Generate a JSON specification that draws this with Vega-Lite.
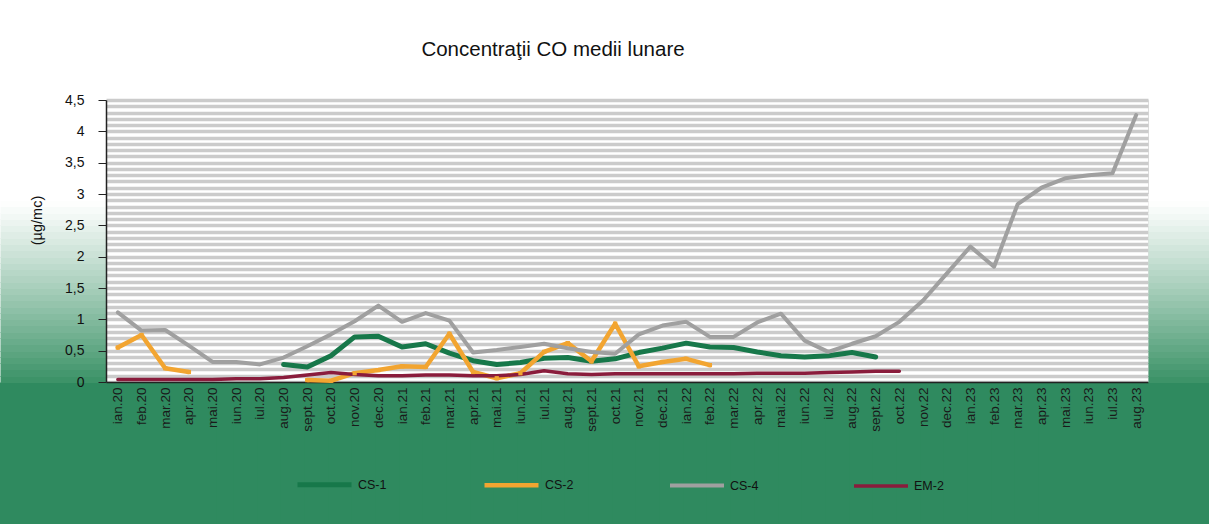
{
  "$schema": "https://vega.github.io/schema/vega-lite/v6.json",
  "width": 1042,
  "height": 282,
  "autosize": {"type": "none"},
  "padding": {"left": 106, "top": 100, "right": 61, "bottom": 142},
  "background": "white",
  "title": {"text": "Concentraţii CO medii lunare", "font": "Liberation Sans", "fontSize": 20.5, "fontWeight": "normal", "color": "#111111", "dx": -74, "offset": 33},
  "data": {"values": [
    {"m": "ian.20", "CS-2": 0.55, "CS-4": 1.11, "EM-2": 0.04},
    {"m": "feb.20", "CS-2": 0.75, "CS-4": 0.82, "EM-2": 0.04},
    {"m": "mar.20", "CS-2": 0.22, "CS-4": 0.83, "EM-2": 0.04},
    {"m": "apr.20", "CS-2": 0.16, "CS-4": 0.58, "EM-2": 0.04},
    {"m": "mai.20", "CS-4": 0.32, "EM-2": 0.04},
    {"m": "iun.20", "CS-4": 0.32, "EM-2": 0.05},
    {"m": "iul.20", "CS-4": 0.28, "EM-2": 0.05},
    {"m": "aug.20", "CS-1": 0.28, "CS-4": 0.39, "EM-2": 0.07},
    {"m": "sept.20", "CS-1": 0.24, "CS-2": 0.03, "CS-4": 0.57, "EM-2": 0.11},
    {"m": "oct.20", "CS-1": 0.42, "CS-2": 0.02, "CS-4": 0.76, "EM-2": 0.15},
    {"m": "nov.20", "CS-1": 0.72, "CS-2": 0.14, "CS-4": 0.97, "EM-2": 0.12},
    {"m": "dec.20", "CS-1": 0.73, "CS-2": 0.19, "CS-4": 1.22, "EM-2": 0.10},
    {"m": "ian.21", "CS-1": 0.56, "CS-2": 0.25, "CS-4": 0.96, "EM-2": 0.10},
    {"m": "feb.21", "CS-1": 0.61, "CS-2": 0.24, "CS-4": 1.10, "EM-2": 0.11},
    {"m": "mar.21", "CS-1": 0.46, "CS-2": 0.77, "CS-4": 0.98, "EM-2": 0.11},
    {"m": "apr.21", "CS-1": 0.34, "CS-2": 0.16, "CS-4": 0.47, "EM-2": 0.10},
    {"m": "mai.21", "CS-1": 0.28, "CS-2": 0.06, "CS-4": 0.51, "EM-2": 0.10},
    {"m": "iun.21", "CS-1": 0.31, "CS-2": 0.14, "CS-4": 0.56, "EM-2": 0.12},
    {"m": "iul.21", "CS-1": 0.38, "CS-2": 0.48, "CS-4": 0.61, "EM-2": 0.18},
    {"m": "aug.21", "CS-1": 0.39, "CS-2": 0.62, "CS-4": 0.54, "EM-2": 0.13},
    {"m": "sept.21", "CS-1": 0.33, "CS-2": 0.33, "CS-4": 0.48, "EM-2": 0.12},
    {"m": "oct.21", "CS-1": 0.37, "CS-2": 0.93, "CS-4": 0.45, "EM-2": 0.13},
    {"m": "nov.21", "CS-1": 0.47, "CS-2": 0.25, "CS-4": 0.76, "EM-2": 0.13},
    {"m": "dec.21", "CS-1": 0.54, "CS-2": 0.32, "CS-4": 0.90, "EM-2": 0.13},
    {"m": "ian.22", "CS-1": 0.62, "CS-2": 0.37, "CS-4": 0.96, "EM-2": 0.13},
    {"m": "feb.22", "CS-1": 0.56, "CS-2": 0.27, "CS-4": 0.72, "EM-2": 0.13},
    {"m": "mar.22", "CS-1": 0.55, "CS-4": 0.72, "EM-2": 0.13},
    {"m": "apr.22", "CS-1": 0.48, "CS-4": 0.95, "EM-2": 0.14},
    {"m": "mai.22", "CS-1": 0.42, "CS-4": 1.09, "EM-2": 0.14},
    {"m": "iun.22", "CS-1": 0.40, "CS-4": 0.66, "EM-2": 0.14},
    {"m": "iul.22", "CS-1": 0.42, "CS-4": 0.48, "EM-2": 0.15},
    {"m": "aug.22", "CS-1": 0.47, "CS-4": 0.61, "EM-2": 0.16},
    {"m": "sept.22", "CS-1": 0.40, "CS-4": 0.73, "EM-2": 0.17},
    {"m": "oct.22", "CS-4": 0.96, "EM-2": 0.17},
    {"m": "nov.22", "CS-4": 1.30},
    {"m": "dec.22", "CS-4": 1.73},
    {"m": "ian.23", "CS-4": 2.16},
    {"m": "feb.23", "CS-4": 1.84},
    {"m": "mar.23", "CS-4": 2.84},
    {"m": "apr.23", "CS-4": 3.10},
    {"m": "mai.23", "CS-4": 3.25},
    {"m": "iun.23", "CS-4": 3.30},
    {"m": "iul.23", "CS-4": 3.33},
    {"m": "aug.23", "CS-4": 4.26}
  ]},
  "transform": [{"fold": ["CS-1", "CS-2", "CS-4", "EM-2"], "as": ["series", "value"]}],
  "encoding": {
    "x": {
      "field": "m", "type": "nominal", "sort": null, "bandPosition": 0.5,
      "scale": {"type": "band", "paddingInner": 0, "paddingOuter": 0},
      "axis": {
        "title": null, "labelAngle": -90, "labelFont": "Liberation Sans", "labelFontSize": 13.5,
        "labelColor": "#1a1a1a", "labelPadding": -137, "labelOverlap": false,
        "tickBand": "extent", "tickSize": 142, "tickWidth": 220, "tickColor": "#2f8a5f",
        "domainColor": "#222222", "domainWidth": 1.5
      }
    }
  },
  "layer": [
    {
      "mark": {"type": "point", "opacity": 0},
      "encoding": {
        "y": {
          "field": "value", "type": "quantitative",
          "scale": {"domain": [0, 4.5], "nice": false},
          "axis": {
            "orient": "left", "title": null, "labels": false, "domain": false, "grid": false,
            "values": [0.05, 0.15, 0.25, 0.35, 0.45, 0.55, 0.65, 0.75, 0.85, 0.95, 1.05, 1.15, 1.25, 1.35, 1.45, 1.55, 1.65, 1.75, 1.85, 1.95, 2.05, 2.15, 2.25, 2.35, 2.45, 2.55, 2.65, 2.75, 2.85, 2.95],
            "tickSize": 106, "tickWidth": 7,
            "tickColor": {"condition": {"test": "datum.value > 3.5", "value": "white"}, "expr": "'rgb(' + round(255-198*pow(clamp((2.9-datum.value)/2.9,0,1),1.1)) + ',' + round(255-110*pow(clamp((2.9-datum.value)/2.9,0,1),1.1)) + ',' + round(255-154*pow(clamp((2.9-datum.value)/2.9,0,1),1.1)) + ')'"}
          }
        }
      }
    },
    {
      "mark": {"type": "point", "opacity": 0},
      "encoding": {
        "y": {
          "field": "value", "type": "quantitative",
          "scale": {"domain": [0, 4.5], "nice": false},
          "axis": {
            "orient": "right", "title": null, "labels": false, "domain": false, "grid": false,
            "values": [0.05, 0.15, 0.25, 0.35, 0.45, 0.55, 0.65, 0.75, 0.85, 0.95, 1.05, 1.15, 1.25, 1.35, 1.45, 1.55, 1.65, 1.75, 1.85, 1.95, 2.05, 2.15, 2.25, 2.35, 2.45, 2.55, 2.65, 2.75, 2.85, 2.95],
            "tickSize": 61, "tickWidth": 7,
            "tickColor": {"condition": {"test": "datum.value > 3.5", "value": "white"}, "expr": "'rgb(' + round(255-198*pow(clamp((2.9-datum.value)/2.9,0,1),1.1)) + ',' + round(255-110*pow(clamp((2.9-datum.value)/2.9,0,1),1.1)) + ',' + round(255-154*pow(clamp((2.9-datum.value)/2.9,0,1),1.1)) + ')'"}
          }
        }
      }
    },
    {
      "mark": {"type": "line", "invalid": "break-paths-show-domains", "strokeCap": "round", "strokeJoin": "round"},
      "encoding": {
        "y": {
          "field": "value", "type": "quantitative",
          "scale": {"domain": [0, 4.5], "nice": false},
          "axis": {
            "orient": "left",
            "title": "(µg/mc)", "titleFont": "Liberation Sans", "titleFontSize": 14.5, "titleFontWeight": "normal",
            "titleColor": "#111111", "titlePadding": 20, "titleY": 120,
            "values": [0, 0.1, 0.2, 0.3, 0.4, 0.5, 0.6, 0.7, 0.8, 0.9, 1, 1.1, 1.2, 1.3, 1.4, 1.5, 1.6, 1.7, 1.8, 1.9, 2, 2.1, 2.2, 2.3, 2.4, 2.5, 2.6, 2.7, 2.8, 2.9, 3, 3.1, 3.2, 3.3, 3.4, 3.5, 3.6, 3.7, 3.8, 3.9, 4, 4.1, 4.2, 4.3, 4.4, 4.5],
            "grid": true, "gridColor": "#cbcbcb", "gridWidth": 3.4,
            "labelExpr": "abs(datum.value*2-round(datum.value*2))<0.01 ? replace(format(datum.value,'.1~f'),'.',',') : ''",
            "labelFont": "Liberation Sans", "labelFontSize": 14, "labelColor": "#111111", "labelPadding": 14, "labelOverlap": false,
            "tickColor": {"condition": {"test": "abs(datum.value*2-round(datum.value*2))<0.01", "value": "#222222"}, "value": "rgba(0,0,0,0)"},
            "tickSize": 8, "domainColor": "#222222", "domainWidth": 1.5
          }
        },
        "color": {
          "field": "series", "type": "nominal",
          "scale": {"domain": ["CS-1", "CS-2", "CS-4", "EM-2"], "range": ["#17784a", "#f2a531", "#a0a0a0", "#8a1c3c"]},
          "legend": {
            "title": null, "orient": "none", "legendX": 189, "legendY": 355, "direction": "horizontal",
            "symbolType": "stroke", "symbolSize": 2916, "symbolStrokeWidth": 4,
            "labelFont": "Liberation Sans", "labelFontSize": 12.5, "labelColor": "#111111",
            "labelOffset": 4, "columnPadding": 88
          }
        },
        "strokeWidth": {
          "field": "series", "type": "ordinal",
          "scale": {"domain": ["CS-1", "CS-2", "CS-4", "EM-2"], "range": [5, 3.5, 5, 6]},
          "legend": null
        }
      }
    },
    {
      "transform": [{"filter": "datum.series === 'CS-2' && isValid(datum.value)"}],
      "mark": {"type": "square", "color": "#f2a531", "size": 18, "opacity": 1, "filled": true},
      "encoding": {
        "y": {"field": "value", "type": "quantitative", "scale": {"domain": [0, 4.5], "nice": false}, "axis": null}
      }
    }
  ],
  "resolve": {"axis": {"y": "independent"}}
}
